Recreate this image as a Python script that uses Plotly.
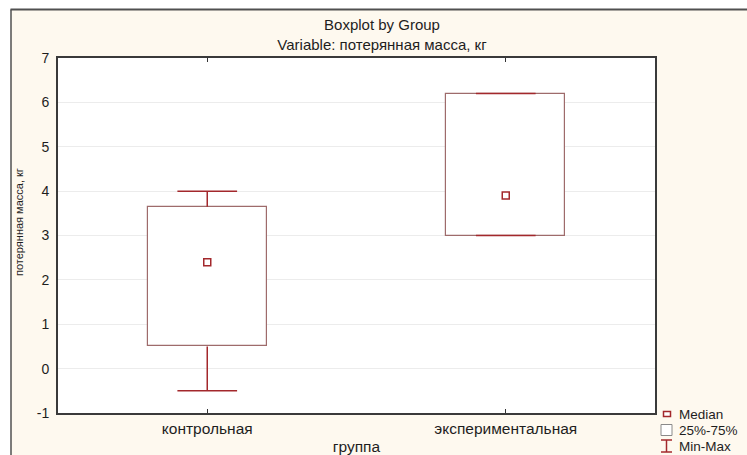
import plotly.graph_objects as go

# Group statistics for "потерянная масса, кг"
groups = ["контрольная", "экспериментальная"]
medians = [2.4, 3.9]
q1 = [0.5, 3.0]
q3 = [3.65, 6.2]
mins = [-0.5, 3.0]
maxs = [4.0, 6.2]
y_ticks = [-1, 0, 1, 2, 3, 4, 5, 6, 7]
y_tick_labels = ["-1", "0", "1", "2", "3", "4", "5", "6", "7"]

W, H = 747, 455
L, R, T, B = 58, 92, 58, 42
PW, PH = W - L - R, H - T - B

FONT = "Liberation Sans, Arial, sans-serif"
TXT = "#1e1e1e"
CREAM = "#fef9ef"
WHISK = "#a3282c"
BOXLINE = "#9e6b6b"
BOX_HALF = 0.2
CAP_HALF = 0.1


def px_x(x):
    return (x - L) / PW


def px_y(y):
    return (H - B - y) / PH


idx = list(range(len(groups)))

fig = go.Figure()

# 25%-75% boxes
fig.add_trace(go.Bar(
    x=idx,
    y=[b - a for a, b in zip(q1, q3)],
    base=q1,
    width=2 * BOX_HALF,
    marker=dict(color="white", line=dict(color=BOXLINE, width=1.2)),
    showlegend=False,
    hoverinfo="skip",
))

# Min-Max whiskers with caps
wx, wy = [], []
for i, lo, hi, a, b in zip(idx, mins, maxs, q1, q3):
    wx += [i, i, None, i - CAP_HALF, i + CAP_HALF, None]
    wy += [b, hi, None, hi, hi, None]
    wx += [i, i, None, i - CAP_HALF, i + CAP_HALF, None]
    wy += [a, lo, None, lo, lo, None]
fig.add_trace(go.Scatter(
    x=wx, y=wy, mode="lines",
    line=dict(color=WHISK, width=1.5),
    showlegend=False, hoverinfo="skip",
))

# Medians
fig.add_trace(go.Scatter(
    x=idx, y=medians, mode="markers",
    marker=dict(symbol="square-open", size=7, color=WHISK,
                line=dict(width=1.5, color=WHISK)),
    showlegend=False,
))

# legend rows: label and vertical centre in pixels
legend_items = [("Median", 414), ("25%-75%", 430), ("Min-Max", 446)]
ym, yb, yw = (yc for _, yc in legend_items)

shapes = [
    # white strips outside the framed panel
    dict(type="rect", xref="paper", yref="paper", layer="below",
         x0=px_x(0), x1=px_x(W), y0=px_y(9.5), y1=px_y(0),
         fillcolor="white", line=dict(width=0)),
    dict(type="rect", xref="paper", yref="paper", layer="below",
         x0=px_x(0), x1=px_x(11), y0=px_y(H), y1=px_y(0),
         fillcolor="white", line=dict(width=0)),
    # panel frame
    dict(type="line", xref="paper", yref="paper",
         x0=px_x(10.5), x1=px_x(W), y0=px_y(9.5), y1=px_y(9.5),
         line=dict(color="#505050", width=2)),
    dict(type="line", xref="paper", yref="paper",
         x0=px_x(11), x1=px_x(11), y0=px_y(9.5), y1=px_y(H),
         line=dict(color="#505050", width=1.5)),
    # legend icons
    dict(type="rect", xref="paper", yref="paper",
         x0=px_x(663.5), x1=px_x(670.5), y0=px_y(ym + 2.5), y1=px_y(ym - 2.5),
         fillcolor="white", line=dict(color=WHISK, width=1.5)),
    dict(type="rect", xref="paper", yref="paper",
         x0=px_x(661), x1=px_x(672), y0=px_y(yb + 5.5), y1=px_y(yb - 5.5),
         fillcolor="white", line=dict(color="#8a8a8a", width=1)),
    dict(type="line", xref="paper", yref="paper",
         x0=px_x(666.5), x1=px_x(666.5), y0=px_y(yw + 6), y1=px_y(yw - 6),
         line=dict(color=WHISK, width=1.5)),
    dict(type="line", xref="paper", yref="paper",
         x0=px_x(661), x1=px_x(672), y0=px_y(yw - 6), y1=px_y(yw - 6),
         line=dict(color=WHISK, width=1.5)),
    dict(type="line", xref="paper", yref="paper",
         x0=px_x(661), x1=px_x(672), y0=px_y(yw + 6), y1=px_y(yw + 6),
         line=dict(color=WHISK, width=1.5)),
]

annotations = [
    dict(text=t, xref="paper", yref="paper", x=px_x(677), y=px_y(yc),
         xanchor="left", yanchor="middle", showarrow=False,
         font=dict(family=FONT, size=13.5, color=TXT))
    for t, yc in legend_items
]
annotations.append(dict(
    text="потерянная масса, кг", xref="paper", yref="paper",
    x=px_x(19), y=px_y(222), textangle=-90,
    xanchor="center", yanchor="middle", showarrow=False,
    font=dict(family=FONT, size=11, color=TXT),
))

fig.update_layout(
    width=W, height=H,
    margin=dict(l=L, r=R, t=T, b=B, autoexpand=False),
    paper_bgcolor=CREAM,
    plot_bgcolor="white",
    font=dict(family=FONT, color=TXT),
    title=dict(
        text="Boxplot by Group<br>Variable: потерянная масса, кг",
        x=382 / W, xref="container", xanchor="center",
        y=1 - 30 / H, yref="container", yanchor="middle",
        font=dict(family=FONT, size=15, color=TXT),
    ),
    xaxis=dict(
        range=[-0.5, 1.5], tickvals=idx, ticktext=groups,
        ticks="inside", ticklen=4, tickwidth=1, tickcolor="#333333",
        showline=True, linecolor="#3a3a3a", linewidth=2, mirror="ticks",
        showgrid=False, zeroline=False,
        tickfont=dict(family=FONT, size=15.5, color=TXT),
        title=dict(text="группа", standoff=6,
                   font=dict(family=FONT, size=15.5, color=TXT)),
        automargin=False,
    ),
    yaxis=dict(
        range=[-1, 7], tickvals=y_ticks, ticktext=y_tick_labels,
        ticks="", showline=True, linecolor="#3a3a3a", linewidth=2, mirror=True,
        showgrid=True, gridcolor="#ececec", gridwidth=1, zeroline=False,
        tickfont=dict(family=FONT, size=14, color=TXT),
        ticklabelstandoff=4,
        automargin=False,
    ),
    shapes=shapes,
    annotations=annotations,
    bargap=0,
)

fig.write_html("out.html")
